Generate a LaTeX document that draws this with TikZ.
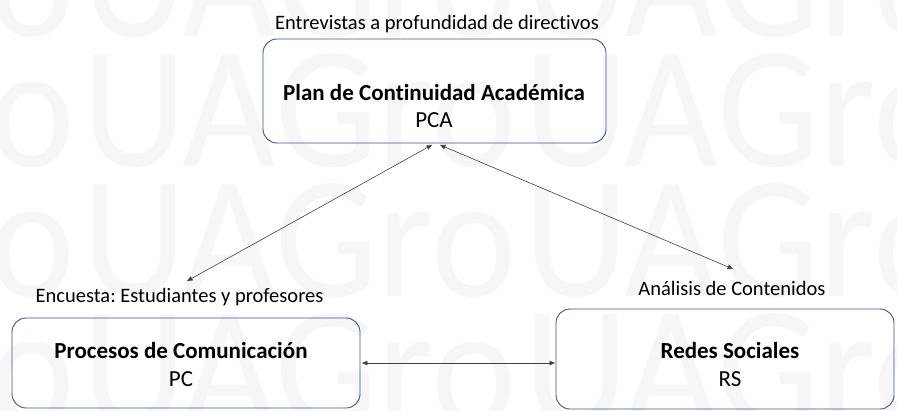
\documentclass[tikz,border=0pt]{standalone}
\usepackage{fontspec}
\setmainfont{Carlito}[Ligatures=NoCommon]
\frenchspacing
\usetikzlibrary{arrows.meta}
\definecolor{boxline}{HTML}{3A5390}
\definecolor{wmgray}{HTML}{F6F6F6}
\definecolor{conncol}{HTML}{404040}
\begin{document}
\begin{tikzpicture}[x=1pt,y=-1pt,
  wmark/.style={font=\fontsize{174}{174}\selectfont, text=wmgray, inner sep=0pt, anchor=base west, xscale=0.93},
  box/.style={draw=boxline, line width=0.9pt, rounded corners=14pt, inner sep=0pt},
  title/.style={font=\fontsize{23}{28}\selectfont\bfseries, inner sep=0pt, anchor=base},
  sub/.style={font=\fontsize{23}{28}\selectfont, inner sep=0pt, anchor=base},
  lbl/.style={font=\fontsize{20.5}{24}\selectfont, inner sep=0pt, anchor=base},
  conn/.style={{Triangle[length=5.5pt,width=4.5pt]}-{Triangle[length=5.5pt,width=4.5pt]}, line width=0.6pt, draw=conncol}]
\useasboundingbox (0,0) rectangle (897,410);
% watermark
\foreach \r/\yy in {1/36,2/166,3/296,4/426}{
  \foreach \c/\xx in {1/-360,2/82,3/524}{
    \node[wmark] (wm\r\c) at (\xx,\yy) {UAGro};
  }
}
% boxes
\node[box, minimum width=343pt, minimum height=104pt] (pca) at (434.5,91) {};
\node[box, minimum width=348pt, minimum height=90pt] (pc) at (186,363) {};
\node[box, minimum width=338pt, minimum height=100pt] (rs) at (725,359) {};
% box texts
\node[title] (pcat) at (434,100) {Plan de Continuidad Académica};
\node[sub] (pcas) at (434,127) {PCA};
\node[title] (pct) at (181,358) {Procesos de Comunicación};
\node[sub] (pcs) at (181,386) {PC};
\node[title] (rst) at (730,358) {Redes Sociales};
\node[sub] (rss) at (730,386) {RS};
% labels
\node[lbl] (lpca) at (437,29) {Entrevistas a profundidad de directivos};
\node[lbl] (lpc) at (179.5,302) {Encuesta: Estudiantes y profesores};
\node[lbl] (lrs) at (732,295) {Análisis de Contenidos};
% free ends
\coordinate (e1) at (187,281);
\coordinate (e2) at (733,269);
% connectors
\draw[conn] ([xshift=-2.5pt,yshift=-1.5pt]pca.south) -- (e1);
\draw[conn] ([xshift=5.5pt,yshift=-1.5pt]pca.south) -- (e2);
\draw[conn] ([xshift=1.5pt]pc.east) -- ([xshift=-0.5pt]rs.west |- pc.east);
\end{tikzpicture}
\end{document}
